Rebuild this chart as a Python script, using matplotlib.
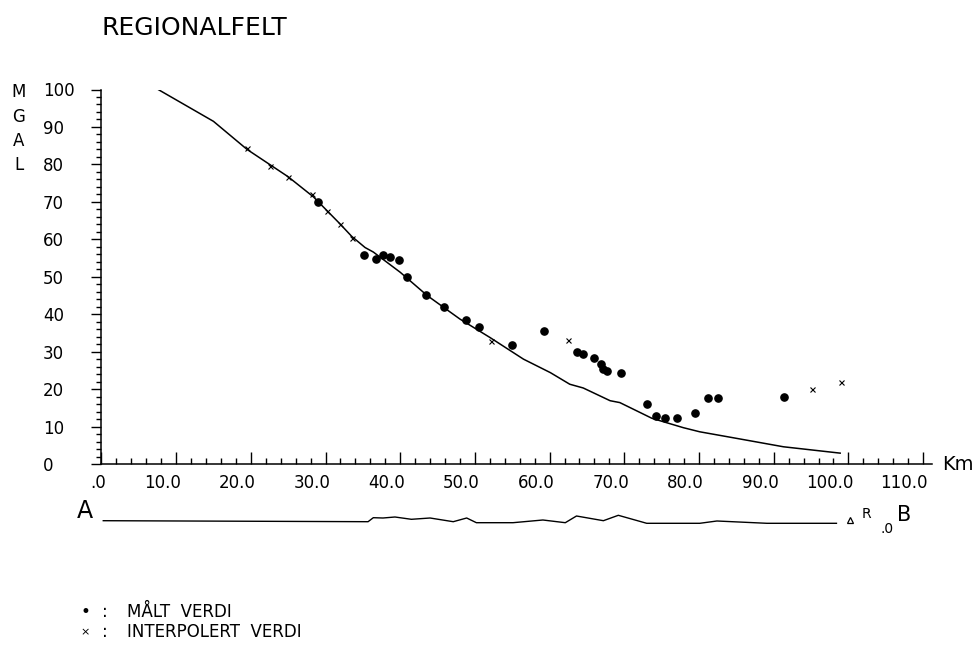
import numpy as np
import matplotlib
matplotlib.use('Agg')
import matplotlib.pyplot as plt
import matplotlib.transforms as mtransforms

plt.rcParams['font.family'] = ['DejaVu Sans']

# ── regional field curve (km, mGal) ──────────────────────────
curve_km   = [7.6, 15.0, 19.5, 25.0, 28.4, 31.9, 33.5, 35.3, 36.4, 40.0, 43.6, 48.0,
              52.0, 56.5, 60.1, 62.7, 64.5, 68.1, 69.4, 73.7, 77.9, 80.1, 84.6,
              91.3, 98.9]
curve_mgal = [100.0, 91.5, 84.0, 76.7, 71.3, 64.2, 60.8, 57.8, 56.6, 51.2, 45.0, 38.7,
              33.8, 28.0, 24.4, 21.3, 20.3, 16.9, 16.4, 12.2, 9.7, 8.6, 7.0,
              4.6, 2.9]

# measured values (dots)
malt_km   = [29.0, 35.2, 36.8, 37.7, 38.7, 39.9, 40.9, 43.5, 45.8, 48.8, 50.5, 54.9,
             59.2, 63.7, 64.5, 66.0, 66.9, 67.1, 67.7, 69.5, 73.1, 74.3, 75.5,
             77.0, 79.5, 81.2, 82.5, 91.4]
malt_mgal = [70.0, 55.7, 54.8, 55.9, 55.2, 54.4, 49.9, 45.2, 42.0, 38.5, 36.5, 31.9,
             35.6, 29.8, 29.4, 28.2, 26.7, 25.4, 24.9, 24.2, 16.1, 12.9, 12.2,
             12.2, 13.7, 17.6, 17.6, 17.8]

# interpolated values (crosses)
interp_km   = [19.5, 22.6, 25.0, 28.2, 30.2, 32.0, 33.6, 52.1, 62.4, 95.1, 99.0]
interp_mgal = [84.3, 79.5, 76.7, 72.2, 67.5, 64.0, 60.4, 32.9, 33.1, 19.9, 22.0]

# topographic profile A-B (relative height)
profile_km = [0.25, 35.7, 36.4, 37.7, 39.3, 41.5, 44.0, 47.1, 48.9, 50.2, 55.1,
              59.1, 62.1, 63.6, 67.2, 69.2, 73.0, 80.1, 82.4, 89.1, 98.4]
profile_h  = [2.6, 1.6, 5.6, 5.3, 6.3, 4.0, 5.3, 1.6, 5.3, 0.6, 0.6,
              3.3, 0.6, 7.3, 2.6, 8.0, 0.0, 0.0, 2.3, 0.0, 0.0]
station_km = 100.2
station_h  = 3.0

xticks_km   = np.arange(0, 111, 10)
xtick_lbls  = ['.0'] + [f'{v:.1f}' for v in xticks_km[1:]]
yticks_mgal = np.arange(0, 101, 10)

W, H = 976, 651
fig = plt.figure(figsize=(W / 100, H / 100), dpi=100)

def box(x0, y0, x1, y1):
    # pixel box (top-left origin) -> figure fraction
    return [x0 / W, 1 - y1 / H, (x1 - x0) / W, (y1 - y0) / H]

ax = fig.add_axes(box(101.4, 89.5, 932, 464))
ax.set_xlim(0, (932 - 101.4) / 7.47)
ax.set_ylim(0, 100)

ax.plot(curve_km, curve_mgal, color='black', lw=1.1)
ax.plot(malt_km, malt_mgal, 'o', color='black', ms=5.2, ls='none')
ax.plot(interp_km, interp_mgal, 'x', color='black', ms=3.6, mew=0.8, ls='none')

for s in ['top', 'right']:
    ax.spines[s].set_visible(False)
for s in ['left', 'bottom']:
    ax.spines[s].set_linewidth(1.1)

ax.set_xticks(xticks_km)
ax.set_xticks(np.arange(0, 111, 2), minor=True)
ax.set_yticks(yticks_mgal)
ax.set_yticks(np.arange(0, 101, 2), minor=True)
ax.tick_params(axis='x', which='major', direction='in', length=8.4, width=1.0,
               labelbottom=False)
ax.tick_params(axis='x', which='minor', direction='in', length=4.2, width=1.0)
ax.tick_params(axis='y', which='major', direction='out', length=7.0, width=1.0,
               labelsize=12, pad=35)
ax.tick_params(axis='y', which='minor', direction='out', length=3.6, width=1.0)
ax.set_yticklabels([str(v) for v in yticks_mgal], ha='left')

# x tick labels: decimal point sits just left of the tick
xlab_tr = mtransforms.offset_copy(ax.get_xaxis_transform(), fig=fig, x=5, y=-10,
                                  units='dots')
for k, lbl in zip(xticks_km, xtick_lbls):
    ax.text(k, 0, lbl, transform=xlab_tr, ha='right', va='top', fontsize=12)

ax.text(112.6, 0, 'Km', fontsize=14, ha='left', va='center', clip_on=False)

# profile A-B
pax = fig.add_axes(box(101.4, 500, 932, 530))
pax.set_xlim(ax.get_xlim())
pax.set_ylim(-6.7, 23.3)
pax.axis('off')
pax.plot(profile_km, profile_h, color='black', lw=1.0)
pax.plot([station_km], [station_h], '^', ms=4, mfc='none', mec='black', mew=0.9)
pax.text(-2.2, 12, 'A', fontsize=17, ha='center', va='center')
pax.text(102.4, 9.3, 'R', fontsize=10, ha='center', va='center')
pax.text(105.2, -5.7, '.0', fontsize=10, ha='center', va='center')
pax.text(107.4, 8.3, 'B', fontsize=15, ha='center', va='center')

# title and y label
fig.text(102 / W, 1 - 28 / H, 'REGIONALFELT', fontsize=18, ha='left', va='center')
for i, ch in enumerate('MGAL'):
    fig.text(19 / W, 1 - (92 + 24.5 * i) / H, ch, fontsize=12, ha='center', va='center')

# key
fig.text(85 / W, 1 - 612 / H, '\u2022', fontsize=12, ha='center', va='center')
fig.text(85 / W, 1 - 632 / H, '\u00d7', fontsize=8, ha='center', va='center')
for i, lbl in enumerate(['MÅLT  VERDI', 'INTERPOLERT  VERDI']):
    y = 1 - (612 + 20 * i) / H
    fig.text(105 / W, y, ':', fontsize=12, ha='center', va='center')
    fig.text(127 / W, y, lbl, fontsize=12, ha='left', va='center')

fig.savefig('out.png', dpi=100)
